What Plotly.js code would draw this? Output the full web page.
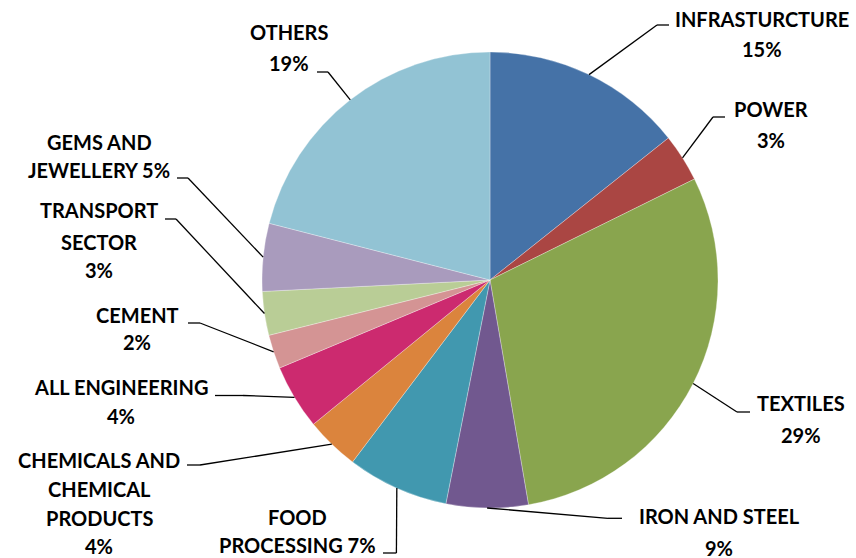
<!DOCTYPE html>
<html>
<head>
<meta charset="utf-8">
<script src="https://cdn.plot.ly/plotly-3.0.1.min.js"></script>
<style>html,body{margin:0;padding:0;background:#fff;}#chart{width:856px;height:558px;}</style>
</head>
<body>
<div id="chart"></div>
<script>
// ---- data ----
const categories = ['INFRASTURCTURE', 'POWER', 'TEXTILES', 'IRON AND STEEL', 'FOOD PROCESSING',
  'CHEMICALS AND CHEMICAL PRODUCTS', 'ALL ENGINEERING', 'CEMENT', 'TRANSPORT SECTOR',
  'GEMS AND JEWELLERY', 'OTHERS'];
const values = [14.3, 3.4, 29.6, 5.8, 7.2, 3.8, 4.6, 2.4, 3.1, 4.8, 21.0];
const pctLabels = ['15%', '3%', '29%', '9%', '7%', '4%', '4%', '2%', '3%', '5%', '19%'];
const sliceColors = ['#4572A7', '#AA4643', '#89A54E', '#71588F', '#4198AF', '#DB843D',
  '#CC2A6F', '#D49494', '#B9CD96', '#A99BBD', '#92C3D4'];

// ---- label layout (line wrapping, pixel positions) ----
const labelWrap = [
  ['INFRASTURCTURE', '{p}'], ['POWER', '{p}'], ['TEXTILES', '{p}'], ['IRON AND STEEL', '{p}'],
  ['FOOD', 'PROCESSING {p}'], ['CHEMICALS AND', 'CHEMICAL', 'PRODUCTS', '{p}'],
  ['ALL ENGINEERING', '{p}'], ['CEMENT', '{p}'], ['TRANSPORT', 'SECTOR', '{p}'],
  ['GEMS AND', 'JEWELLERY {p}'], ['OTHERS', '{p}']];
const labelX = [762, 771, 801, 719, 297, 99, 121, 137, 99, 99, 289];
const labelLineY = [[19, 49.5], [109.5, 140], [403.5, 435], [516.5, 548.5], [517.5, 545.5],
  [460.5, 489.5, 518.5, 546.5], [387.5, 416.5], [315.5, 342.5], [210.5, 242, 270.5],
  [142.5, 170.5], [32.5, 63.5]];
// leader: [x at label, elbow x, y of horizontal segment]
const leaderSeg = [[669, 657, 25], [725, 713, 117], [750, 737, 412], [622, 608, 518.3],
  [383, 396.4, 553], [187, 200, 465], [215, 243, 395.5], [188, 200, 323], [165, 176, 219],
  [177, 188, 178], [317, 328, 72]];

const W = 856, H = 558;
const CX = 490, CY = 280, R = 228;
const px = x => x / W, py = y => 1 - y / H;

const total = values.reduce((a, b) => a + b, 0);
let cum = 0;
const edgePts = values.map(v => {
  const mid = (cum + v / 2) / total * 2 * Math.PI;
  cum += v;
  return [CX + R * Math.sin(mid), CY - R * Math.cos(mid)];
});

const annotations = [];
const shapes = [];
const TEXT_DY = -0.5;
categories.forEach((c, i) => {
  labelWrap[i].forEach((ln, k) => {
    annotations.push({
      xref: 'paper', yref: 'paper', x: px(labelX[i]), y: py(labelLineY[i][k] + TEXT_DY),
      xanchor: 'center', yanchor: 'middle', showarrow: false,
      text: ln.replace('{p}', pctLabels[i]),
      font: {family: 'Lato, "Open Sans", sans-serif', size: 20, color: '#000', weight: 'bold'}
    });
  });
  const s = leaderSeg[i];
  const lineStyle = {color: '#000', width: 1.3};
  shapes.push({type: 'line', xref: 'paper', yref: 'paper', x0: px(s[0]), y0: py(s[2]), x1: px(s[1]), y1: py(s[2]), line: lineStyle});
  shapes.push({type: 'line', xref: 'paper', yref: 'paper', x0: px(s[1]), y0: py(s[2]), x1: px(edgePts[i][0]), y1: py(edgePts[i][1]), line: lineStyle});
});

const trace = {
  type: 'pie',
  labels: categories,
  values: values,
  sort: false,
  direction: 'clockwise',
  rotation: 0,
  textinfo: 'none',
  hoverinfo: 'label+percent',
  marker: {colors: sliceColors, line: {color: '#ffffff', width: 0.3}},
  domain: {x: [px(CX - R), px(CX + R)], y: [py(CY + R), py(CY - R)]},
  showlegend: false
};

Plotly.newPlot('chart', [trace], {
  width: W, height: H,
  margin: {l: 0, r: 0, t: 0, b: 0},
  paper_bgcolor: '#ffffff',
  showlegend: false,
  annotations: annotations,
  shapes: shapes
}, {displayModeBar: false, staticPlot: true});
</script>
</body>
</html>
